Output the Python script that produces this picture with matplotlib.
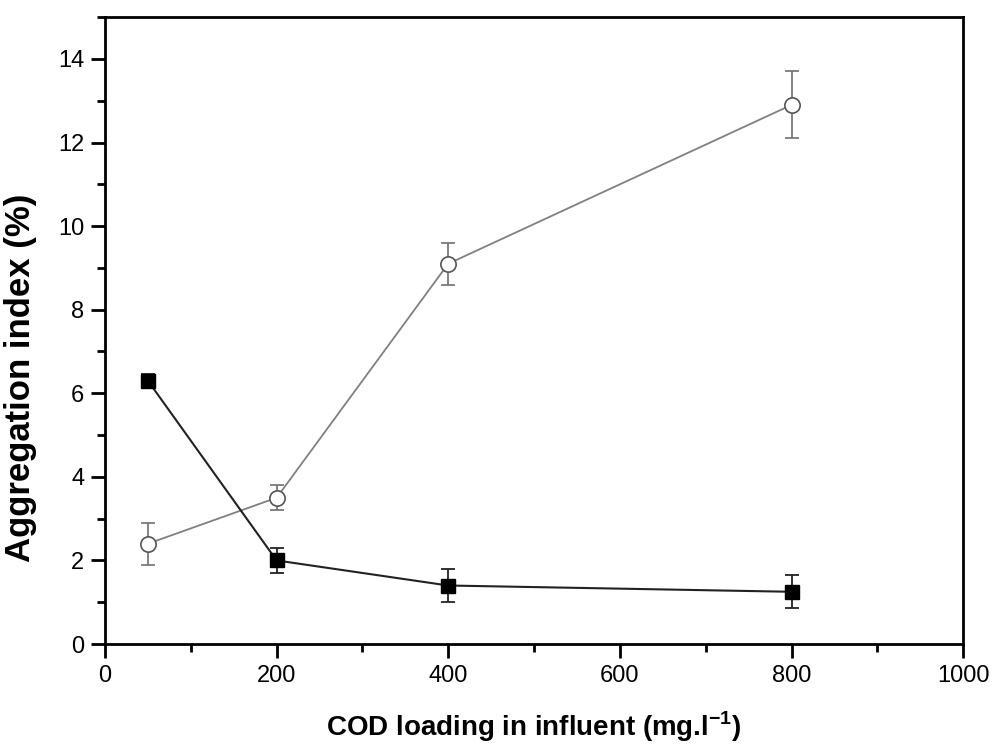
import matplotlib
matplotlib.use("Agg")
import matplotlib.pyplot as plt
from matplotlib.ticker import MultipleLocator

plt.rcParams["font.family"] = ["Liberation Sans", "DejaVu Sans"]
plt.rcParams["mathtext.fontset"] = "custom"
plt.rcParams["mathtext.rm"] = "Liberation Sans:bold"

cod = [50, 200, 400, 800]
open_vals = [2.4, 3.5, 9.1, 12.9]
open_err = [0.5, 0.3, 0.5, 0.8]
filled_vals = [6.3, 2.0, 1.4, 1.25]
filled_err = [0.15, 0.3, 0.4, 0.4]

fig = plt.figure(figsize=(9.95, 7.46), dpi=100)
ax = fig.add_axes([0.1055, 0.1367, 0.8625, 0.8403])

ax.errorbar(cod, open_vals, yerr=open_err, color="#808080", lw=1.3,
            marker="o", ms=11, mfc="white", mec="#555555", mew=1.2,
            ecolor="#707070", elinewidth=1.2, capsize=5, capthick=1.2)
ax.errorbar(cod, filled_vals, yerr=filled_err, color="#222222", lw=1.5,
            marker="s", ms=9.5, mfc="black", mec="black",
            ecolor="#222222", elinewidth=1.3, capsize=5, capthick=1.3)

ax.set_xlim(0, 1000)
ax.set_ylim(0, 15)
ax.xaxis.set_major_locator(MultipleLocator(200))
ax.xaxis.set_minor_locator(MultipleLocator(100))
ax.yaxis.set_major_locator(MultipleLocator(2))
ax.yaxis.set_minor_locator(MultipleLocator(1))
ax.tick_params(which="both", direction="out", width=2, labelsize=17, pad=5)
ax.tick_params(which="major", length=10)
ax.tick_params(which="minor", length=5.5)
for s in ax.spines.values():
    s.set_linewidth(2)

ax.set_xlabel("COD loading in influent (mg.l$^{\\mathrm{-1}}$)", fontsize=20,
              fontweight="bold", labelpad=16)
ax.set_ylabel("Aggregation index (%)", fontsize=25, fontweight="bold")
# label in the original sits a bit below the axis middle
ax.yaxis.set_label_coords(-0.079, 0.424)

fig.savefig("out.png", dpi=100)
